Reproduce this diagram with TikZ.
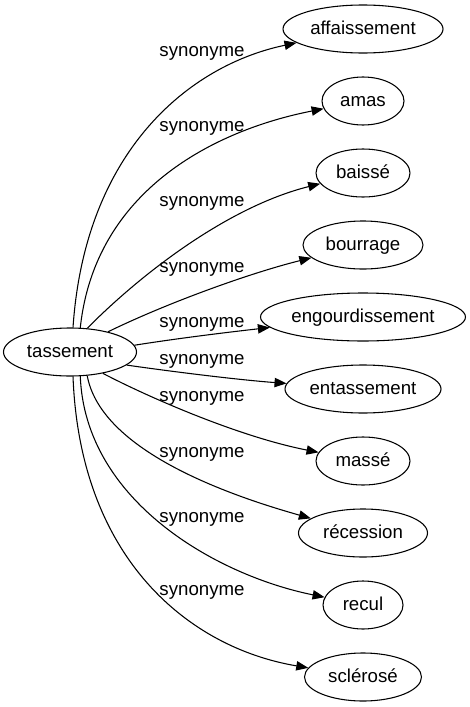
\documentclass[tikz,border=0pt]{standalone}
\usepackage{fontspec}
\setmainfont{Liberation Sans}
\usetikzlibrary{arrows.meta,shapes.geometric}
\begin{document}
\begin{tikzpicture}[x=0.75pt,y=-0.75pt,
  word/.style={draw, ellipse, line width=0.8pt, inner sep=0pt, minimum height=36pt,
    text height=10pt, text depth=2pt, font=\fontsize{14pt}{16pt}\selectfont},
  lbl/.style={anchor=base, inner sep=0pt, font=\fontsize{14pt}{16pt}\selectfont},
  rel/.style={-{Triangle[length=9pt,width=7pt]}, line width=0.8pt}]
\useasboundingbox (0,0) rectangle (470,707);
\node[word, minimum width=99.75pt] (t) at (70,352) {tassement};
\node[word, minimum width=120pt]   (n1) at (363,29)  {affaissement};
\node[word, minimum width=61.5pt]  (n2) at (363,101) {amas};
\node[word, minimum width=70.5pt]  (n3) at (363,173) {baissé};
\node[word, minimum width=90pt]    (n4) at (363,245) {bourrage};
\node[word, minimum width=153.75pt](n5) at (363,317) {engourdissement};
\node[word, minimum width=117pt]   (n6) at (363,389) {entassement};
\node[word, minimum width=70.5pt]  (n7) at (363,461) {massé};
\node[word, minimum width=96.75pt] (n8) at (363,533) {récession};
\node[word, minimum width=60pt]    (n9) at (363,605) {recul};
\node[word, minimum width=87.75pt] (n10) at (363,677) {sclérosé};
\node[lbl] (l1) at (202,56.5) {synonyme};
\node[lbl] (l2) at (202,131.5) {synonyme};
\node[lbl] (l3) at (202,206.5) {synonyme};
\node[lbl] (l4) at (202,272.5) {synonyme};
\node[lbl] (l5) at (202,327.5) {synonyme};
\node[lbl] (l6) at (202,364.5) {synonyme};
\node[lbl] (l7) at (202,401.5) {synonyme};
\node[lbl] (l8) at (202,457.5) {synonyme};
\node[lbl] (l9) at (202,522.5) {synonyme};
\node[lbl] (l10) at (202,595.5) {synonyme};
\draw[rel] (t.83)   .. controls (85,150)  and (190,65)  .. (n1);
\draw[rel] (t.67)   .. controls (95,190)  and (215,130) .. (n2);
\draw[rel] (t.54)   .. controls (140,275) and (227,207) .. (n3);
\draw[rel] (t.28)   .. controls (167,303) and (250,273) .. (n4);
\draw[rel] (t.6)    .. controls (180,338) and (230,332) .. (n5);
\draw[rel] (t.-13)  .. controls (175,372) and (240,380) .. (n6);
\draw[rel] (t.-33)  .. controls (150,398) and (240,437) .. (n7);
\draw[rel] (t.-54)  .. controls (100,445) and (210,490) .. (n8);
\draw[rel] (t.-67)  .. controls (85,500)  and (215,575) .. (n9);
\draw[rel] (t.-83)  .. controls (80,560)  and (190,648) .. (n10);
\end{tikzpicture}
\end{document}
